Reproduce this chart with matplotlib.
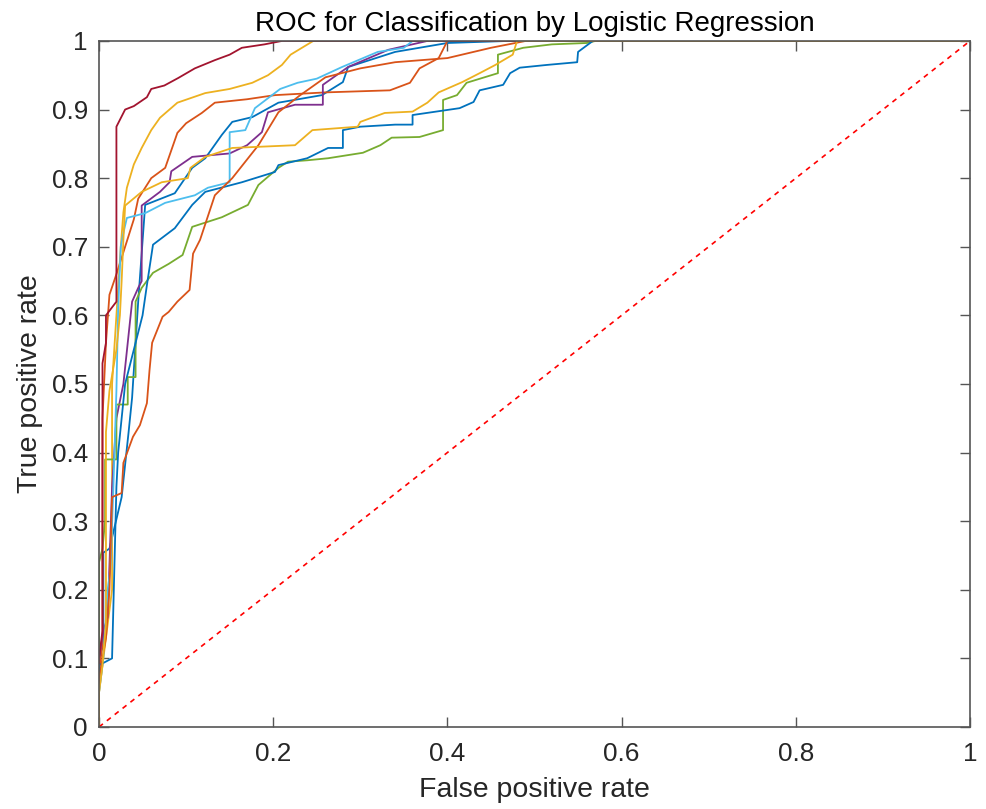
import matplotlib
matplotlib.use("Agg")
import matplotlib.pyplot as plt

plt.rcParams['font.family'] = ['Liberation Sans', 'DejaVu Sans']

# MATLAB default colour order, 10 folds
colors = ['#0072BD', '#D95319', '#EDB120', '#7E2F8E', '#77AC30',
          '#4DBEEE', '#A2142F', '#0072BD', '#D95319', '#EDB120']

# ROC curves (fpr, tpr)
fpr1 = [0, 0, 0.005, 0.005, 0.012, 0.026, 0.034, 0.038, 0.045, 0.053, 0.087, 0.107, 0.122, 0.141,
        0.153, 0.176, 0.206, 0.256, 0.28, 0.286, 0.34, 0.40, 0.47, 1]
tpr1 = [0, 0.1, 0.12, 0.254, 0.26, 0.335, 0.43, 0.48, 0.62, 0.761, 0.778, 0.815, 0.829, 0.863,
        0.882, 0.889, 0.91, 0.921, 0.94, 0.962, 0.984, 0.997, 1, 1]

fpr2 = [0, 0, 0.004, 0.004, 0.008, 0.012, 0.02, 0.03, 0.04, 0.045, 0.06, 0.076, 0.09, 0.1, 0.118,
        0.133, 0.17, 0.202, 0.26, 0.334, 0.357, 0.368, 0.39, 0.40, 1]
tpr2 = [0, 0.08, 0.12, 0.45, 0.56, 0.63, 0.66, 0.7, 0.74, 0.77, 0.8, 0.815, 0.866, 0.88, 0.895,
        0.91, 0.915, 0.921, 0.925, 0.928, 0.939, 0.96, 0.975, 1, 1]

fpr3 = [0, 0, 0.005, 0.01, 0.015, 0.015, 0.02, 0.025, 0.028, 0.032, 0.04, 0.049, 0.06, 0.07, 0.09,
        0.122, 0.15, 0.176, 0.194, 0.21, 0.22, 0.246, 1]
tpr3 = [0, 0.05, 0.1, 0.15, 0.2, 0.5, 0.6, 0.7, 0.75, 0.786, 0.82, 0.844, 0.87, 0.888, 0.91,
        0.924, 0.93, 0.939, 0.95, 0.965, 0.98, 1, 1]

fpr4 = [0, 0, 0.005, 0.01, 0.015, 0.02, 0.028, 0.038, 0.045, 0.049, 0.049, 0.07, 0.081, 0.083,
        0.107, 0.15, 0.17, 0.187, 0.194, 0.225, 0.257, 0.257, 0.286, 0.332, 0.377, 1]
tpr4 = [0, 0.1, 0.14, 0.16, 0.35, 0.45, 0.5, 0.62, 0.64, 0.65, 0.76, 0.78, 0.794, 0.81,
        0.831, 0.836, 0.848, 0.867, 0.896, 0.907, 0.907, 0.936, 0.962, 0.987, 1, 1]

fpr5 = [0, 0, 0.004, 0.007, 0.007, 0.02, 0.02, 0.033, 0.033, 0.042, 0.042, 0.049, 0.062, 0.08,
        0.096, 0.107, 0.141, 0.171, 0.183, 0.206, 0.217, 0.239, 0.263, 0.303, 0.323, 0.336,
        0.368, 0.395, 0.395, 0.411, 0.422, 0.458, 0.458, 0.487, 0.52, 0.56, 0.57, 1]
tpr5 = [0, 0.24, 0.26, 0.3, 0.39, 0.39, 0.47, 0.47, 0.51, 0.51, 0.62, 0.64, 0.662, 0.675,
        0.688, 0.729, 0.743, 0.761, 0.79, 0.815, 0.824, 0.826, 0.829, 0.837, 0.848, 0.859,
        0.86, 0.87, 0.914, 0.921, 0.939, 0.953, 0.98, 0.99, 0.995, 0.997, 1, 1]

fpr6 = [0, 0, 0.005, 0.01, 0.013, 0.016, 0.02, 0.022, 0.025, 0.028, 0.032, 0.053, 0.076, 0.11,
        0.125, 0.15, 0.15, 0.168, 0.179, 0.208, 0.228, 0.25, 0.279, 0.32, 0.35, 0.36, 1]
tpr6 = [0, 0.05, 0.1, 0.2, 0.23, 0.33, 0.49, 0.61, 0.7, 0.72, 0.742, 0.749, 0.764, 0.775,
        0.786, 0.794, 0.867, 0.87, 0.902, 0.93, 0.939, 0.945, 0.962, 0.984, 0.99, 1, 1]

fpr7 = [0, 0, 0.004, 0.004, 0.008, 0.008, 0.02, 0.02, 0.03, 0.04, 0.055, 0.06, 0.075, 0.091,
        0.11, 0.133, 0.15, 0.164, 0.19, 0.21, 1]
tpr7 = [0, 0.1, 0.14, 0.53, 0.56, 0.6, 0.62, 0.875, 0.9, 0.905, 0.918, 0.93, 0.935, 0.946,
        0.96, 0.972, 0.98, 0.99, 0.995, 1, 1]

fpr8 = [0, 0, 0.015, 0.02, 0.022, 0.03, 0.04, 0.05, 0.055, 0.062, 0.087, 0.107, 0.122, 0.164,
        0.202, 0.206, 0.239, 0.263, 0.28, 0.28, 0.30, 0.34, 0.36, 0.36, 0.414, 0.43, 0.437,
        0.464, 0.472, 0.483, 0.514, 0.549, 0.55, 0.567, 1]
tpr8 = [0, 0.09, 0.1, 0.35, 0.4, 0.5, 0.55, 0.6, 0.644, 0.703, 0.727, 0.761, 0.78, 0.794,
        0.809, 0.819, 0.829, 0.844, 0.844, 0.87, 0.875, 0.878, 0.878, 0.892, 0.902, 0.911, 0.928,
        0.936, 0.953, 0.961, 0.965, 0.969, 0.984, 1, 1]

fpr9 = [0, 0, 0.008, 0.012, 0.015, 0.026, 0.028, 0.039, 0.047, 0.055, 0.058, 0.061, 0.073, 0.08,
        0.09, 0.104, 0.108, 0.116, 0.133, 0.153, 0.183, 0.206, 0.23, 0.26, 0.30, 0.34, 0.40,
        0.45, 0.49, 1]
tpr9 = [0, 0.07, 0.13, 0.2, 0.335, 0.341, 0.385, 0.423, 0.44, 0.472, 0.52, 0.56, 0.598, 0.605,
        0.62, 0.637, 0.69, 0.71, 0.775, 0.80, 0.848, 0.896, 0.92, 0.947, 0.96, 0.969, 0.975,
        0.99, 1, 1]

fpr10 = [0, 0, 0.004, 0.008, 0.008, 0.012, 0.02, 0.024, 0.026, 0.028, 0.03, 0.049, 0.072, 0.102,
         0.105, 0.122, 0.153, 0.225, 0.245, 0.297, 0.30, 0.328, 0.36, 0.377, 0.39, 0.417, 0.437,
         0.455, 0.475, 0.48, 1]
tpr10 = [0, 0.05, 0.09, 0.15, 0.43, 0.49, 0.55, 0.6, 0.65, 0.71, 0.76, 0.78, 0.794, 0.80,
         0.815, 0.831, 0.844, 0.848, 0.87, 0.875, 0.882, 0.895, 0.897, 0.91, 0.925, 0.94, 0.953,
         0.965, 0.98, 1, 1]

fprs = [fpr1, fpr2, fpr3, fpr4, fpr5, fpr6, fpr7, fpr8, fpr9, fpr10]
tprs = [tpr1, tpr2, tpr3, tpr4, tpr5, tpr6, tpr7, tpr8, tpr9, tpr10]

yticks = [0, 0.1, 0.2, 0.3, 0.4, 0.5, 0.6, 0.7, 0.8, 0.9, 1]
xticks = [0, 0.2, 0.4, 0.6, 0.8, 1]
ylabels = ['0', '0.1', '0.2', '0.3', '0.4', '0.5', '0.6', '0.7', '0.8', '0.9', '1']
xlabels = ['0', '0.2', '0.4', '0.6', '0.8', '1']

fig = plt.figure(figsize=(9.87, 8.09), dpi=100)
ax = fig.add_axes([0.1003, 0.1014, 0.8825, 0.848])

for f, t, c in zip(fprs, tprs, colors):
    ax.plot(f, t, color=c, lw=1.3)
ax.plot([0, 1], [0, 1], 'r--', lw=1.2, dashes=(3, 3))

ax.set_xlim(0, 1)
ax.set_ylim(0, 1)
ax.set_xticks(xticks)
ax.set_xticklabels(xlabels)
ax.set_yticks(yticks)
ax.set_yticklabels(ylabels)
ax.tick_params(direction='in', length=7, width=1, color='#555555', labelcolor='#262626',
               labelsize=18.8, top=True, right=True)
ax.tick_params(axis='x', pad=11)
ax.tick_params(axis='y', pad=8)
for s in ax.spines.values():
    s.set_color('#555555')
    s.set_linewidth(1.2)

ax.set_xlabel('False positive rate', fontsize=20.5, color='#262626', labelpad=8)
ax.set_ylabel('True positive rate', fontsize=20.5, color='#262626', labelpad=6)
ax.set_title('ROC for Classification by Logistic Regression', fontsize=20, color='black', pad=7)

fig.savefig('out.png', dpi=100)
